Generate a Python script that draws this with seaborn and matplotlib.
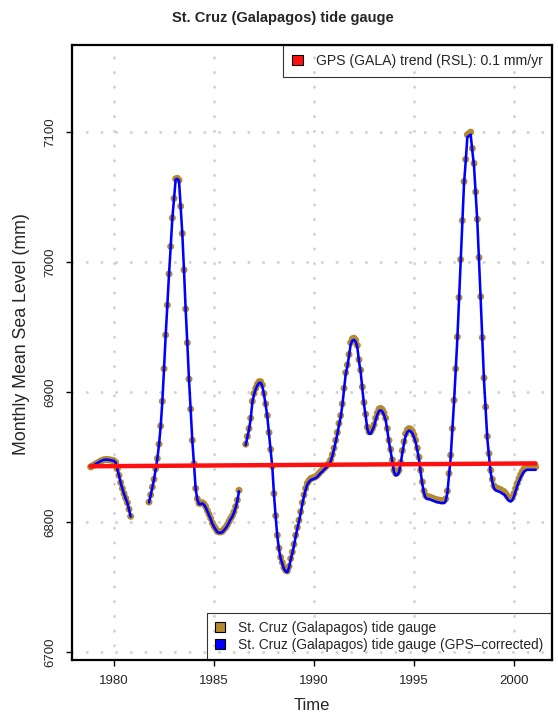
import numpy as np
import pandas as pd
import matplotlib
matplotlib.use("Agg")
import matplotlib.pyplot as plt
from matplotlib.patches import Patch
import seaborn as sns

# ---------------- data ----------------
seg1_start = 1978 + 10 / 12
seg1_values = [6842.5, 6843.3, 6844.0, 6844.8, 6845.5, 6846.2, 6847.0, 6847.6, 6848.0,
               6848.2, 6848.2, 6848.0, 6847.8, 6847.6, 6847.2, 6846.0, 6841.0, 6836.0,
               6830.5, 6826.0, 6822.0, 6818.5, 6815.0, 6810.0, 6804.5]

seg2_start = 1981 + 9 / 12
seg2_values = [6815.5, 6821, 6827, 6833, 6841, 6849, 6860, 6874, 6893, 6918, 6944, 6967,
               6991, 7012, 7034, 7049, 7064, 7064.5, 7063, 7043, 7022, 6994, 6964, 6938,
               6910, 6887, 6863, 6845, 6826, 6818, 6814.5, 6814.5, 6815, 6814, 6812, 6809,
               6806, 6803, 6799.5, 6797, 6795, 6793, 6792.5, 6792.5, 6793, 6794.5, 6796,
               6798, 6800.5, 6803, 6805, 6808, 6812, 6817, 6824.5]

seg3_start = 1986 + 7 / 12
seg3_values = [6860, 6866, 6872, 6880, 6893, 6899, 6903, 6906, 6908, 6908, 6905.5, 6899,
               6891, 6882, 6869, 6856, 6843, 6822, 6805, 6790, 6780, 6773, 6769, 6765,
               6763, 6762.5, 6766, 6772, 6777, 6783, 6790, 6796, 6801.5, 6808, 6815, 6821,
               6826, 6830, 6832, 6833.5, 6834, 6834.5, 6835, 6836, 6837.5, 6839, 6840,
               6841.5, 6842.6, 6844, 6845.5, 6848, 6852, 6857, 6863, 6869, 6876, 6882,
               6891, 6903, 6915, 6921, 6929, 6938, 6941, 6941.5, 6940, 6936, 6925, 6917,
               6904, 6892, 6883, 6873, 6869.5, 6869.5, 6872, 6875, 6880, 6884, 6887,
               6887.5, 6886.5, 6884, 6880, 6872, 6863, 6856, 6848, 6840, 6837.5, 6838,
               6840, 6846, 6855, 6862, 6868, 6871, 6872, 6871.5, 6870, 6867, 6863, 6857,
               6850, 6840, 6831, 6824, 6820.5, 6819.5, 6819.5, 6819, 6818.5, 6818, 6817.5,
               6817, 6817, 6816.5, 6816.5, 6816.5, 6818, 6824, 6837.5, 6851.5, 6872,
               6893.8, 6918, 6942.5, 6972.8, 7002, 7032, 7062, 7079, 7098, 7099, 7100,
               7087.5, 7076, 7054, 7033, 7003.6, 6973.5, 6942, 6911, 6888.7, 6866, 6852.8,
               6840, 6833, 6828, 6826.5, 6826, 6825.5, 6825, 6824, 6823.5, 6822, 6820,
               6818.5, 6818, 6819, 6822, 6826, 6830, 6833.5, 6836.5, 6839, 6841, 6842,
               6842.5, 6842.5, 6842.5, 6842.5, 6842.5, 6842.5]

gps_rate = 0.1  # mm/yr (GALA), from the legend
trend_years = [1978.83, 2001.08]
trend_values = [6843.0, 6845.2]

title = "St. Cruz (Galapagos) tide gauge"
xlabel = "Time"
ylabel = "Monthly Mean Sea Level (mm)"
x_ticks = [1980, 1985, 1990, 1995, 2000]
y_ticks = [6700, 6800, 6900, 7000, 7100]
label_tide = "St. Cruz (Galapagos) tide gauge"
label_corr = "St. Cruz (Galapagos) tide gauge (GPS\u2013corrected)"
label_trend = "GPS (GALA) trend (RSL): 0.1 mm/yr"

# ---------------- build table ----------------
frames = []
for k, (start, vals) in enumerate([(seg1_start, seg1_values),
                                   (seg2_start, seg2_values),
                                   (seg3_start, seg3_values)]):
    t = start + np.arange(len(vals)) / 12.0
    frames.append(pd.DataFrame({"time": t, "tide": vals, "segment": k}))
df = pd.concat(frames, ignore_index=True)
df["corrected"] = df["tide"] - gps_rate * (df["time"] - df["time"].iloc[0])
trend_df = pd.DataFrame({"time": trend_years, "level": trend_values})

# ---------------- style ----------------
sns.set_style("white")
plt.rcParams["font.family"] = ["Liberation Sans", "DejaVu Sans"]

GOLD = "#B38A2E"
fig = plt.figure(figsize=(5.58, 7.2), dpi=100)
ax = fig.add_axes([72 / 558, 60 / 720, 480 / 558, 615 / 720])

sns.scatterplot(data=df, x="time", y="tide", color=GOLD, s=25, edgecolor="none",
                alpha=1.0, ax=ax, zorder=2, legend=False)
sns.lineplot(data=df, x="time", y="corrected", units="segment", estimator=None,
             sort=False, color="#0000FF", lw=1.85, ax=ax, zorder=3, legend=False)
sns.lineplot(data=trend_df, x="time", y="level", color="#FF1010", lw=3.2, ax=ax,
             zorder=4, legend=False)

ax.set_xlim(1977.9, 2001.9)
ax.set_ylim(6694, 7167)
ax.set_xticks(x_ticks)
ax.set_xticklabels([str(v) for v in x_ticks], fontsize=9.5)
ax.set_yticks(y_ticks)
ax.set_yticklabels([str(v) for v in y_ticks], fontsize=9.5, rotation=90, va="center")
ax.tick_params(axis="both", direction="out", length=4, width=1, color="black",
               bottom=True, left=True, top=False, right=False)
ax.tick_params(axis="x", pad=7)
ax.tick_params(axis="y", pad=7)

ax.grid(True, color="#D3D3D3", linestyle=(0, (0.01, 4.8)), linewidth=2.2, zorder=0)
for gl in ax.get_xgridlines() + ax.get_ygridlines():
    gl.set_dash_capstyle("round")
ax.set_axisbelow(True)

for sp in ax.spines.values():
    sp.set_color("black")
    sp.set_linewidth(1.6)

ax.set_xlabel(xlabel, fontsize=12)
ax.set_ylabel(ylabel, fontsize=12.8)
ax.xaxis.set_label_coords(0.5, (660 - 706) / 615)
ax.xaxis.label.set_va("center")
ax.yaxis.set_label_coords((22 - 72) / 480, (660 - 334) / 615)
ax.yaxis.label.set_va("center")

fig.text(283 / 558, 1 - 18 / 720, title, ha="center", va="center",
         fontsize=10.5, fontweight="bold")

# legends
h_trend = [Patch(facecolor="#FF1010", edgecolor="black", linewidth=0.8)]
leg1 = ax.legend(h_trend, [label_trend], loc="upper right", borderaxespad=0,
                 fontsize=10.1, frameon=True, fancybox=False, edgecolor="black",
                 facecolor="none", handlelength=0.75, handleheight=0.75,
                 handletextpad=0.95, borderpad=0.65)
leg1.get_frame().set_linewidth(0.8)
ax.add_artist(leg1)

h_series = [Patch(facecolor=GOLD, edgecolor="black", linewidth=0.8),
            Patch(facecolor="#0000FF", edgecolor="black", linewidth=0.8)]
leg2 = ax.legend(h_series, [label_tide, label_corr], loc="lower right",
                 borderaxespad=0, fontsize=9.9, frameon=True, fancybox=False,
                 edgecolor="black", facecolor="none", handlelength=0.75,
                 handleheight=0.75, handletextpad=0.95, borderpad=0.6,
                 labelspacing=0.2)
leg2.get_frame().set_linewidth(0.8)

fig.savefig("out.png", dpi=100)
